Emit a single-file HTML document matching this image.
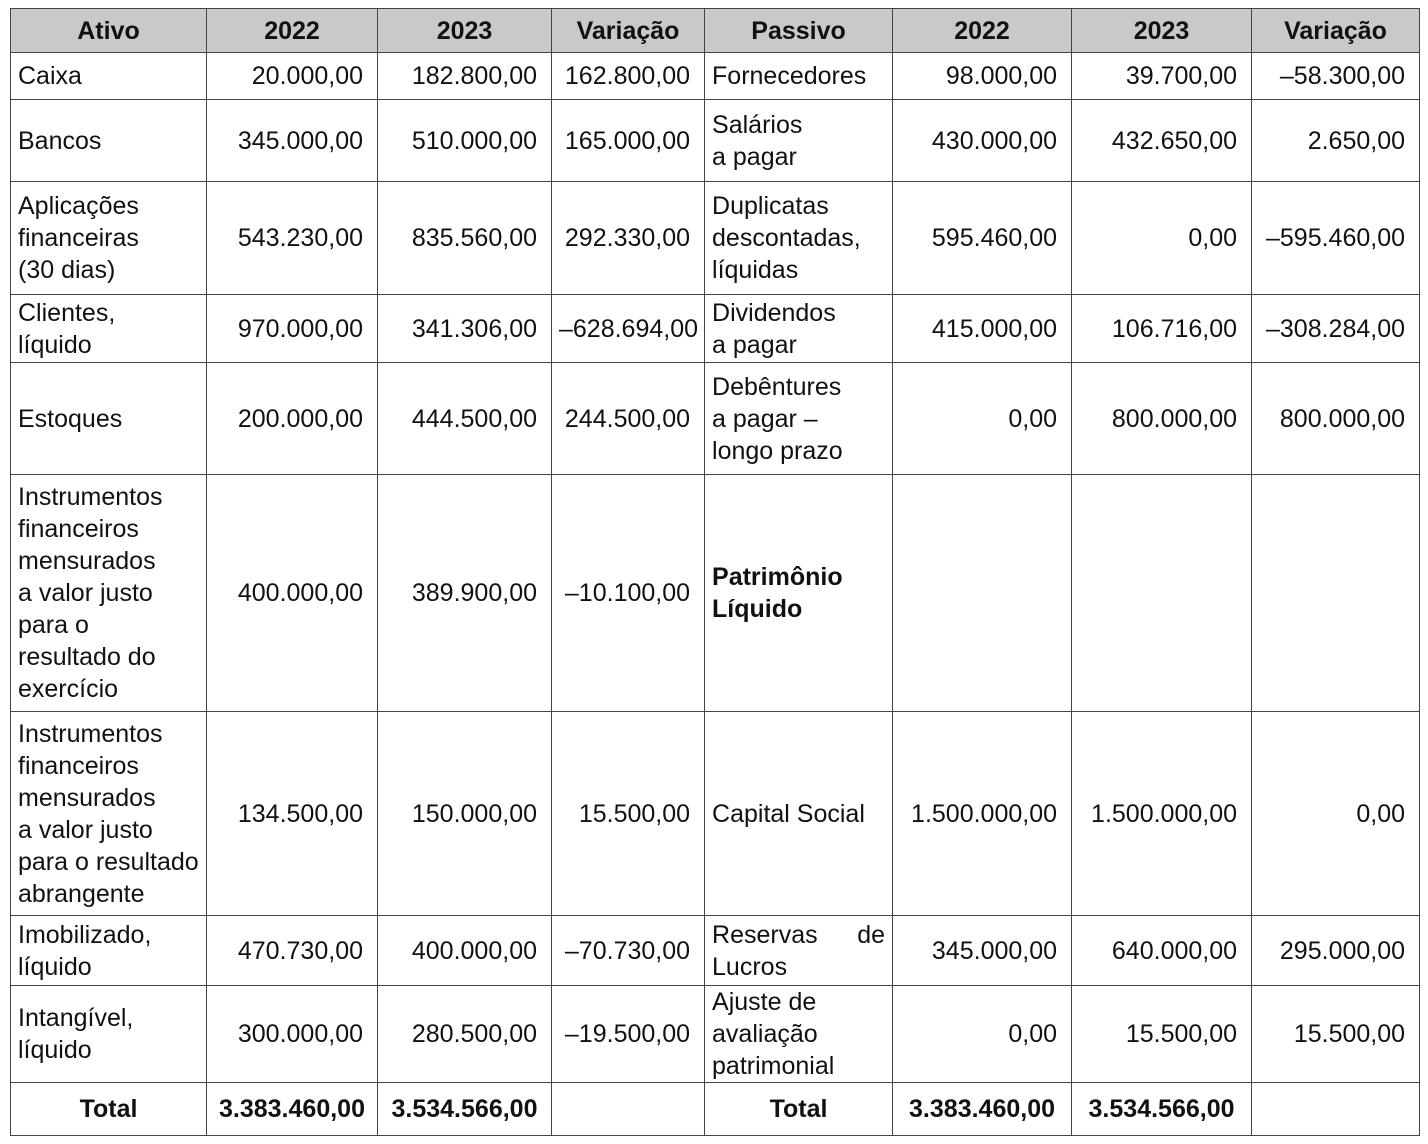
<!DOCTYPE html>
<html><head><meta charset="utf-8"><style>
html,body{margin:0;padding:0;background:#fff;width:1428px;height:1144px;overflow:hidden}
table{position:absolute;left:10px;top:8px;border-collapse:collapse;table-layout:fixed;font-family:"Liberation Sans",Arial,sans-serif;font-size:25px;line-height:32px;color:#111}
td,th{border:1.5px solid #444;padding:0 7px;vertical-align:middle;overflow:visible;white-space:nowrap}
th{background:#c9c9c9;font-weight:bold;text-align:center}
td.n{text-align:right;padding-right:14px}
td.v{text-align:right;padding-right:14px}
td.w{text-align:right;padding-right:6px}
tr.t td{font-weight:bold;text-align:center;padding:0}
.j{display:flex;justify-content:space-between}
</style></head><body>
<table>
<colgroup><col style="width:196px"><col style="width:171px"><col style="width:174px"><col style="width:152px"><col style="width:188px"><col style="width:179px"><col style="width:180px"><col style="width:168px"></colgroup>
<tr style="height:44px"><th>Ativo</th><th>2022</th><th>2023</th><th>Variação</th><th>Passivo</th><th>2022</th><th>2023</th><th>Variação</th></tr>
<tr style="height:47px"><td>Caixa</td><td class="n">20.000,00</td><td class="n">182.800,00</td><td class="v">162.800,00</td><td>Fornecedores</td><td class="n">98.000,00</td><td class="n">39.700,00</td><td class="v">–58.300,00</td></tr>
<tr style="height:82px"><td>Bancos</td><td class="n">345.000,00</td><td class="n">510.000,00</td><td class="v">165.000,00</td><td>Salários<br>a pagar</td><td class="n">430.000,00</td><td class="n">432.650,00</td><td class="v">2.650,00</td></tr>
<tr style="height:113px"><td>Aplicações<br>financeiras<br>(30 dias)</td><td class="n">543.230,00</td><td class="n">835.560,00</td><td class="v">292.330,00</td><td>Duplicatas<br>descontadas,<br>líquidas</td><td class="n">595.460,00</td><td class="n">0,00</td><td class="v">–595.460,00</td></tr>
<tr style="height:68px"><td>Clientes,<br>líquido</td><td class="n">970.000,00</td><td class="n">341.306,00</td><td class="w">–628.694,00</td><td>Dividendos<br>a pagar</td><td class="n">415.000,00</td><td class="n">106.716,00</td><td class="v">–308.284,00</td></tr>
<tr style="height:112px"><td>Estoques</td><td class="n">200.000,00</td><td class="n">444.500,00</td><td class="v">244.500,00</td><td>Debêntures<br>a pagar –<br>longo prazo</td><td class="n">0,00</td><td class="n">800.000,00</td><td class="v">800.000,00</td></tr>
<tr style="height:237px"><td>Instrumentos<br>financeiros<br>mensurados<br>a valor justo<br>para o<br>resultado do<br>exercício</td><td class="n">400.000,00</td><td class="n">389.900,00</td><td class="v">–10.100,00</td><td><b>Patrimônio<br>Líquido</b></td><td></td><td></td><td></td></tr>
<tr style="height:204px"><td>Instrumentos<br>financeiros<br>mensurados<br>a valor justo<br>para o resultado<br>abrangente</td><td class="n">134.500,00</td><td class="n">150.000,00</td><td class="v">15.500,00</td><td>Capital Social</td><td class="n">1.500.000,00</td><td class="n">1.500.000,00</td><td class="v">0,00</td></tr>
<tr style="height:70px"><td>Imobilizado,<br>líquido</td><td class="n">470.730,00</td><td class="n">400.000,00</td><td class="v">–70.730,00</td><td><div class="j"><span>Reservas</span><span>de</span></div>Lucros</td><td class="n">345.000,00</td><td class="n">640.000,00</td><td class="v">295.000,00</td></tr>
<tr style="height:95px"><td>Intangível,<br>líquido</td><td class="n">300.000,00</td><td class="n">280.500,00</td><td class="v">–19.500,00</td><td>Ajuste de<br>avaliação<br>patrimonial</td><td class="n">0,00</td><td class="n">15.500,00</td><td class="v">15.500,00</td></tr>
<tr class="t" style="height:53px"><td>Total</td><td>3.383.460,00</td><td>3.534.566,00</td><td></td><td>Total</td><td>3.383.460,00</td><td>3.534.566,00</td><td></td></tr>
</table>
</body></html>
